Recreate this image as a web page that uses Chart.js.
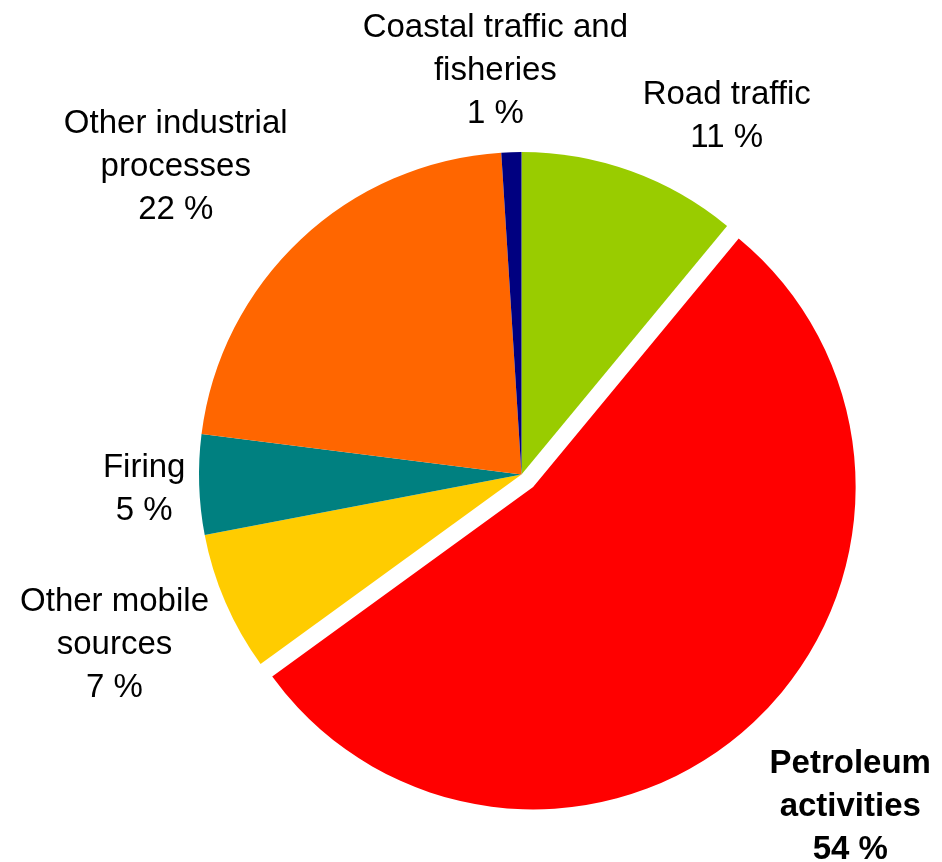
<!DOCTYPE html>
<html>
<head>
<meta charset="utf-8">
<script src="https://cdn.jsdelivr.net/npm/chart.js@4/dist/chart.umd.min.js"></script>
<style>
  html, body { margin: 0; padding: 0; background: #fff; }
  #wrap { width: 942px; height: 862px; position: relative; }
</style>
</head>
<body>
<div id="wrap"><canvas id="emissions-chart"></canvas></div>
<script>
// Share of emissions by source, clockwise from 12 o'clock
const sources = [
    ['Road traffic'],
    ['Petroleum', 'activities'],
    ['Other mobile', 'sources'],
    ['Firing'],
    ['Other industrial', 'processes'],
    ['Coastal traffic and', 'fisheries']
];
const shares = [11, 54, 7, 5, 22, 1];
const sliceColors = ['#99CC00', '#FF0000', '#FFCC00', '#008080', '#FF6600', '#000080'];
const highlighted = 1; // petroleum is pulled out and labelled in bold

/**
 * Pull one slice out along its mid angle without growing it
 * (the built-in offset also enlarges the arc)
 */
const explodeSlice = {
    id: 'explodeSlice',
    beforeDatasetDraw(chart, args, opts) {
        const ctx = chart.ctx;
        args.meta.data.forEach((arc, i) => {
            ctx.save();
            if (i === highlighted) {
                const mid = (arc.startAngle + arc.endAngle) / 2;
                ctx.translate(Math.cos(mid) * opts.distance, Math.sin(mid) * opts.distance);
            }
            arc.draw(ctx);
            ctx.restore();
        });
        return false;
    }
};

/**
 * Labels outside the pie, placed from the slice's outer mid point
 */
const sliceLabels = {
    id: 'sliceLabels',
    afterDatasetsDraw(chart, args, opts) {
        const ctx = chart.ctx;
        const arcs = chart.getDatasetMeta(0).data;
        ctx.save();
        ctx.fillStyle = '#000';
        ctx.textAlign = 'center';
        ctx.textBaseline = 'middle';
        arcs.forEach((arc, i) => {
            const p = arc.getProps(['x', 'y', 'startAngle', 'endAngle', 'outerRadius'], true);
            const mid = (p.startAngle + p.endAngle) / 2;
            const ex = p.x + Math.cos(mid) * p.outerRadius;
            const ey = p.y + Math.sin(mid) * p.outerRadius;
            const [dx, dy] = opts.nudge[i];
            const lines = [...chart.data.labels[i], chart.data.datasets[0].data[i] + ' %'];
            ctx.font = (i === highlighted ? 'bold ' : '') + opts.size + 'px "Liberation Sans", Arial, sans-serif';
            const top = ey + dy - (lines.length - 1) * opts.lineHeight / 2;
            lines.forEach((t, k) => ctx.fillText(t, ex + dx, top + k * opts.lineHeight));
        });
        ctx.restore();
    }
};

const chart = new Chart(document.getElementById('emissions-chart'), {
    type: 'pie',
    data: {
        labels: sources,
        datasets: [{
            data: shares,
            backgroundColor: sliceColors,
            borderWidth: 0
        }]
    },
    options: {
        animation: false,
        responsive: true,
        maintainAspectRatio: false,
        events: [],
        layout: {
            padding: { left: 120, right: 19, top: 152, bottom: 65 }
        },
        plugins: {
            legend: { display: false },
            tooltip: { enabled: false },
            explodeSlice: { distance: 17 },
            sliceLabels: {
                size: 33,
                lineHeight: 43,
                nudge: [[96, -55], [108, 97], [-111, 42], [-55, 5], [-125, -73], [-16, -81]]
            }
        }
    },
    plugins: [explodeSlice, sliceLabels]
});
</script>
</body>
</html>
